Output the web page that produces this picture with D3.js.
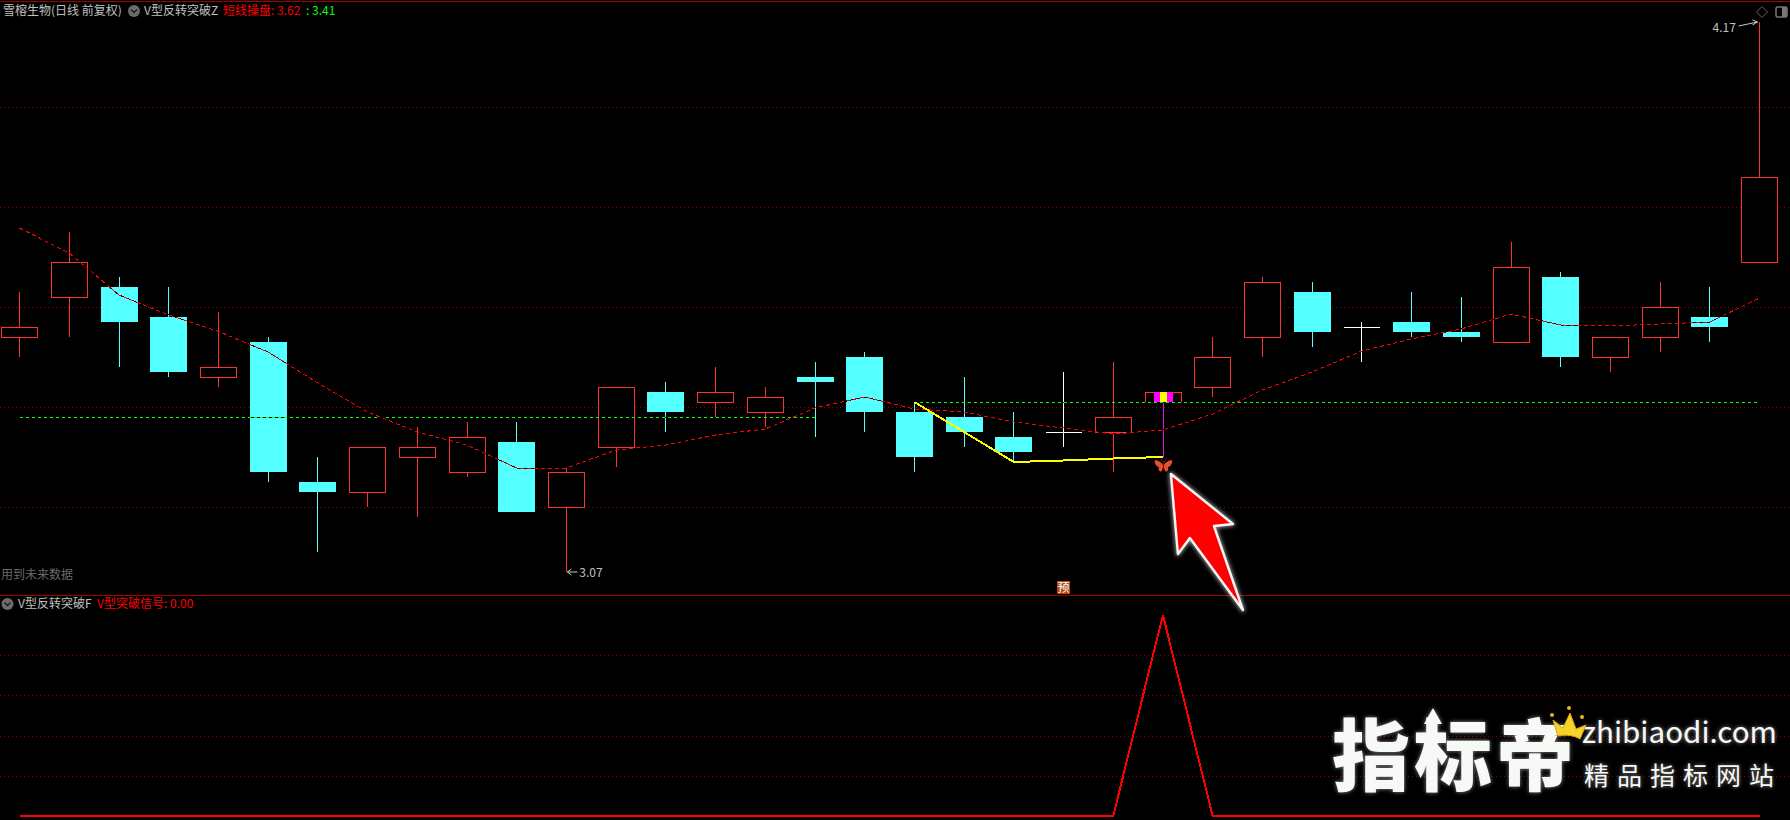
<!DOCTYPE html>
<html><head><meta charset="utf-8">
<script src="https://cdn.jsdelivr.net/npm/d3@7"></script>
<style>
html,body{margin:0;padding:0;background:#000;overflow:hidden}
svg{display:block}
text{font-family:"Noto Sans CJK SC","Noto Sans",sans-serif}
</style></head><body><svg id="c" width="1790" height="820"></svg>
<script>
// ---- data ----
const opens  = [3.54,3.62,3.64,3.58,3.46,3.53,3.25,3.23,3.30,3.27,3.33,3.20,3.32,3.43,3.41,3.39,3.46,3.50,3.39,3.38,3.34,3.35,3.35,3.41,3.44,3.54,3.63,3.56,3.57,3.55,3.53,3.66,3.50,3.54,3.58,3.69];
const closes = [3.56,3.69,3.57,3.47,3.48,3.27,3.23,3.32,3.32,3.34,3.19,3.27,3.44,3.39,3.43,3.42,3.45,3.39,3.30,3.35,3.31,3.35,3.38,3.43,3.50,3.65,3.55,3.56,3.55,3.54,3.68,3.50,3.54,3.60,3.56,3.86];
const highs  = [3.63,3.75,3.66,3.64,3.59,3.54,3.30,3.32,3.36,3.37,3.37,3.28,3.44,3.45,3.48,3.44,3.49,3.51,3.41,3.46,3.39,3.47,3.49,3.43,3.54,3.66,3.65,3.57,3.63,3.62,3.73,3.67,3.54,3.65,3.64,4.17];
const lows   = [3.50,3.54,3.48,3.46,3.44,3.25,3.11,3.20,3.18,3.26,3.19,3.07,3.28,3.35,3.38,3.36,3.34,3.35,3.27,3.32,3.29,3.32,3.27,3.30,3.42,3.50,3.52,3.49,3.54,3.53,3.53,3.48,3.47,3.51,3.53,3.69];
const maLine = [3.758,3.708,3.624,3.584,3.551,3.51,3.448,3.39,3.35,3.324,3.278,3.278,3.314,3.324,3.344,3.356,3.398,3.42,3.396,3.39,3.37,3.358,3.346,3.354,3.386,3.434,3.47,3.512,3.536,3.556,3.586,3.564,3.562,3.566,3.57,3.618];
const supportA = {from:0,to:16,value:3.38};
const supportB = {from:18,to:35,value:3.41};
const yellowIdx = [18,20,21,22,23];
const yellowVal = [3.41,3.29,3.293,3.297,3.30];
const signal = [0,0,0,0,0,0,0,0,0,0,0,0,0,0,0,0,0,0,0,0,0,0,0,1,0,0,0,0,0,0,0,0,0,0,0,0];
const signalIdx = 23, badgeIdx = 21;
const priceTicks = [3.2,3.4,3.6,3.8,4.0];
const signalTicks = [0.2,0.4,0.6,0.8];
const titleParts = [
 {t:"雪榕生物(日线 前复权)",x:3,c:"#c0c0c0"},
 {t:"V型反转突破Z",x:144,c:"#c0c0c0"},
 {t:"短线操盘:",x:223,c:"#ff0000"},
 {t:"3.62",x:277,c:"#ff0000"},
 {t:":",x:306,c:"#00ff00"},
 {t:"3.41",x:312,c:"#00ff00"}];
const subParts = [
 {t:"V型反转突破F",x:18,c:"#c0c0c0"},
 {t:"V型突破信号:",x:97,c:"#ff0000"},
 {t:"0.00",x:170,c:"#ff0000"}];

// ---- scales ----
const W=1790,H=820;
const x=d3.scaleLinear().domain([0,35]).range([19.5,1759.5]);
const y=d3.scaleLinear().domain([3.4,4.0]).range([407,107]);
const ys=d3.scaleLinear().domain([0,1]).range([816,615]);
const bw=36;
const RED="#ff3232",CY="#54ffff";
const svg=d3.select("#c");
const px=v=>Math.round(v)+0.5;
svg.append("rect").attr("width",W).attr("height",H).attr("fill","#000");

// frame
const frame="#a00000";
svg.append("line").attr("x1",0).attr("x2",W).attr("y1",1.5).attr("y2",1.5).attr("stroke",frame);
svg.append("line").attr("x1",0).attr("x2",W).attr("y1",595.5).attr("y2",595.5).attr("stroke",frame);

// grids
const grid=(sc,vals)=>svg.append("g").attr("shape-rendering","crispEdges").selectAll("line").data(vals).join("line")
 .attr("x1",0).attr("x2",W).attr("y1",d=>px(sc(d))).attr("y2",d=>px(sc(d)))
 .attr("stroke","#8a0000").attr("stroke-dasharray","1 3");
grid(y,priceTicks);grid(ys,signalTicks);

// candles
const g=svg.append("g").attr("shape-rendering","crispEdges");
opens.forEach((o,i)=>{
 const c=closes[i],cx=Math.round(x(i)-0.3)+0.5;
 const top=y(Math.max(o,c)),bot=y(Math.min(o,c));
 if(i===signalIdx){
  g.append("line").attr("x1",cx).attr("x2",cx).attr("y1",bot).attr("y2",y(lows[i])).attr("stroke","#e010e0");
  g.append("path").attr("d",`M${cx-18},${bot}V${px(top)}H${cx+18}V${bot}`).attr("fill","none").attr("stroke",RED);
  g.append("rect").attr("x",cx-9.5).attr("width",19).attr("y",top).attr("height",bot-top).attr("fill","#ff00ff");
  g.append("rect").attr("x",cx-3.5).attr("width",7).attr("y",top).attr("height",bot-top).attr("fill","#ffff00");
  return;
 }
 const col=c>o?RED:(c<o?CY:"#ffffff");
 g.append("line").attr("x1",cx).attr("x2",cx).attr("y1",y(highs[i])).attr("y2",y(lows[i])).attr("stroke",col);
 if(c>o){
  g.append("rect").attr("x",cx-18).attr("y",px(top)).attr("width",bw).attr("height",Math.round(bot-top))
   .attr("fill","#000").attr("stroke",col);
 } else if(c<o){
  g.append("rect").attr("x",cx-18.5).attr("y",top).attr("width",bw+1).attr("height",bot-top).attr("fill",col);
 } else {
  g.append("line").attr("x1",cx-18).attr("x2",cx+18).attr("y1",px(top)).attr("y2",px(top)).attr("stroke",col);
 }
});

// dashed level lines
[supportA,supportB].forEach(s=>{
 const a=svg.append("g").attr("shape-rendering","crispEdges");
 a.append("line").attr("x1",x(s.from)).attr("x2",x(s.to)).attr("y1",px(y(s.value))).attr("y2",px(y(s.value))).attr("stroke","#000");
 a.append("line").attr("x1",x(s.from)).attr("x2",x(s.to)).attr("y1",px(y(s.value))).attr("y2",px(y(s.value)))
  .attr("stroke","#00ff00").attr("stroke-dasharray","3 3");
});

// moving line
const lineP=d3.line().x((d,i)=>x(i)).y(d=>y(d));
const ma=svg.append("g").attr("shape-rendering","crispEdges");
ma.append("path").attr("d",lineP(maLine)).attr("fill","none").attr("stroke","#000").attr("stroke-width",1);
ma.append("path").attr("d",lineP(maLine)).attr("fill","none").attr("stroke","#ff0000").attr("stroke-width",1).attr("stroke-dasharray","4 3");

// yellow breakout line
svg.append("path").attr("d",d3.line().x(d=>x(d[0])).y(d=>y(d[1]))(yellowIdx.map((d,i)=>[d,yellowVal[i]])))
 .attr("fill","none").attr("stroke","#ffff00").attr("stroke-width",2).attr("shape-rendering","crispEdges");

// signal panel
svg.append("path").attr("d",d3.line().x((d,i)=>x(i)).y(d=>ys(d))(signal))
 .attr("fill","none").attr("stroke","#ff0000").attr("stroke-width",2).attr("stroke-linejoin","miter").attr("shape-rendering","crispEdges");

// texts
const txt=(p,cy,size=12)=>svg.append("text").attr("x",p.x).attr("y",cy).attr("dy","0.36em")
 .attr("font-size",size).attr("fill",p.c).text(p.t);
titleParts.forEach(p=>txt(p,11));
subParts.forEach(p=>txt(p,604));
txt({t:"用到未来数据",x:1,c:"#6a6a6a"},575);

// dropdown icons
const chev=(cx,cy)=>{
 svg.append("circle").attr("cx",cx).attr("cy",cy).attr("r",6).attr("fill","#6c6c6c");
 svg.append("path").attr("d",`M${cx-3},${cy-1.5}L${cx},${cy+1.5}L${cx+3},${cy-1.5}`).attr("fill","none").attr("stroke","#1a1a1a").attr("stroke-width",1.4);
};
chev(134,11);chev(7.5,604);

// extreme labels
const lo=d3.range(36).reduce((a,b)=>lows[b]<lows[a]?b:a,0), hi=d3.range(36).reduce((a,b)=>highs[b]>highs[a]?b:a,0);
const lx=x(lo),ly=y(lows[lo]);
svg.append("path").attr("d",`M${lx+1},${ly}H${lx+11}M${lx+1},${ly}l4,-3M${lx+1},${ly}l4,3`).attr("fill","none").attr("stroke","#c8c8c8");
svg.append("text").attr("x",lx+13).attr("y",ly+1).attr("dy","0.36em").attr("font-size",12).attr("fill","#c0c0c0").text(lows[lo].toFixed(2));
const hx=x(hi),hy=y(highs[hi]);
svg.append("path").attr("d",`M${hx-21},${hy+4}L${hx-2},${hy}M${hx-2},${hy}l-5,-2M${hx-2},${hy}l-5,3`).attr("fill","none").attr("stroke","#c8c8c8");
svg.append("text").attr("x",hx-47).attr("y",hy+6).attr("dy","0.36em").attr("font-size",12).attr("fill","#c0c0c0").text(highs[hi].toFixed(2));

// window glyphs
svg.append("path").attr("d","M1762,6.5L1767.5,12L1762,17.5L1756.5,12Z").attr("fill","none").attr("stroke","#666");
svg.append("rect").attr("x",1776).attr("y",7).attr("width",11).attr("height",10).attr("rx",2).attr("fill","none").attr("stroke","#777").attr("stroke-width",1.5);
svg.append("rect").attr("x",1782).attr("y",7).attr("width",5).attr("height",10).attr("rx",1).attr("fill","#777");

// forecast badge
const bx=x(badgeIdx)-6.5;
svg.append("rect").attr("x",bx).attr("y",581).attr("width",13).attr("height",13).attr("fill","#b24a12");
svg.append("text").attr("x",bx+6.5).attr("y",587.5).attr("dy","0.36em").attr("text-anchor","middle").attr("font-size",12).attr("fill","#fff").text("预");

// butterfly marker
const bf=svg.append("g").attr("transform",`translate(${x(signalIdx)+0.5},465) scale(1.1)`);
bf.append("path").attr("d","M0,0C-3,-4 -7,-5 -8,-4C-8,-1 -6,2 -4,2C-5,4 -4,6 -2,6C-1,5 -1,3 0,2C1,3 1,5 2,6C4,6 5,4 4,2C6,2 8,-1 8,-4C7,-5 3,-4 0,0Z").attr("fill","#e8502c");
bf.append("path").attr("d","M0,5V-2M0,-2L-2,-6M0,-2L3,-6").attr("stroke","#5a1408").attr("fill","none");

// big callout arrow, anchored under the signal candle
const defs=svg.append("defs");
const f=defs.append("filter").attr("id","glow").attr("x","-30%").attr("y","-30%").attr("width","160%").attr("height","160%");
f.append("feGaussianBlur").attr("stdDeviation",2);
const ax=x(signalIdx),ay=y(lows[signalIdx]);
const arrowPts=[[8,17],[70,67],[51,69],[80,153],[27,81],[15,97]];
const arrowD="M"+arrowPts.map(p=>[ax+p[0],ay+p[1]].join(",")).join("L")+"Z";
svg.append("path").attr("d",arrowD).attr("fill","#fff").attr("stroke","#fff").attr("stroke-width",4).attr("stroke-linejoin","round").attr("filter","url(#glow)").attr("opacity",.6);
svg.append("path").attr("d",arrowD).attr("fill","#ff0000").attr("stroke","#f4f4f4").attr("stroke-width",2.4).attr("stroke-linejoin","round");

// watermark
const wm=svg.append("g");
const wf=defs.append("filter").attr("id","wglow").attr("x","-10%").attr("y","-10%").attr("width","120%").attr("height","130%");
wf.append("feGaussianBlur").attr("stdDeviation",2);
const mark=(parent,fl)=>{
 const k=parent.append("g").attr("fill","#f7f9f7");
 if(fl)k.attr("filter","url(#wglow)").attr("opacity",.55);
 k.append("text").attr("x",1332).attr("y",785).attr("font-size",78).attr("font-weight",900).attr("letter-spacing",4).text("指标帝");
 k.append("path").attr("d","M1433,708L1442,724H1437V735H1429V724H1424Z");
 k.append("text").attr("x",1582).attr("y",743).attr("font-size",29).attr("font-family","Lato")
  .attr("textLength",195).attr("lengthAdjust","spacingAndGlyphs").text("zhibiaodi.com");
 k.append("text").attr("x",1584).attr("y",785).attr("font-size",25).attr("letter-spacing",8).text("精品指标网站");
};
mark(wm,true);mark(wm,false);
const cr=svg.append("g").attr("transform","translate(1567,722)");
cr.append("path").attr("d","M-14,-2L-9,14C0,12 8,14 13,17L19,3L9,7L3,-9L-4,6Z").attr("fill","#f6d32a").attr("stroke","#d9a514");
cr.selectAll("circle").data([[-15,-7],[2,-14],[15,-5]]).join("circle").attr("cx",d=>d[0]).attr("cy",d=>d[1]).attr("r",2).attr("fill","#f0b020");
</script></body></html>
